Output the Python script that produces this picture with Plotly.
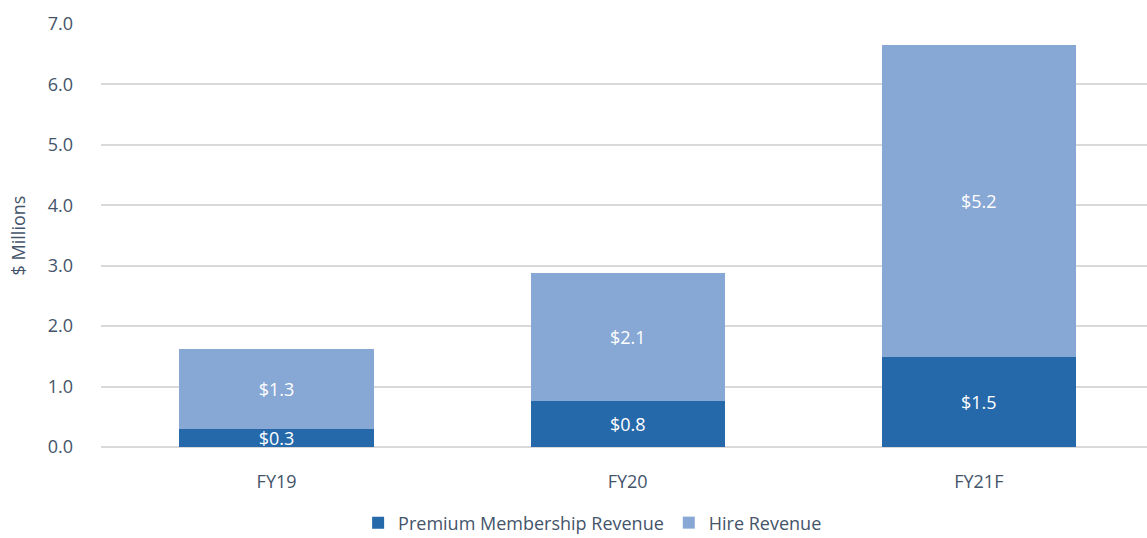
import plotly.graph_objects as go

# Revenue by fiscal year, $ millions
years = ["FY19", "FY20", "FY21F"]
premium_membership = [0.29, 0.76, 1.49]
hire_revenue = [1.34, 2.12, 5.16]

DARK = "#2569AA"
LIGHT = "#87A7D4"
TEXT = "#44546A"
FONT = "Open Sans"

fig = go.Figure()
for name, vals, col in [("Premium Membership Revenue", premium_membership, DARK),
                        ("Hire Revenue", hire_revenue, LIGHT)]:
    fig.add_trace(go.Bar(
        name=name, x=years, y=vals,
        marker=dict(color=col, line=dict(width=0)),
        texttemplate="$%{y:.1f}", textposition="inside",
        insidetextanchor="middle", constraintext="none",
        textfont=dict(color="white", size=18, family=FONT),
    ))

fig.update_layout(
    barmode="stack",
    bargap=0.447,
    width=1147, height=538,
    margin=dict(l=101, r=0, t=24, b=91, autoexpand=False),
    paper_bgcolor="white", plot_bgcolor="white",
    font=dict(family=FONT, color=TEXT, size=18),
    showlegend=True,
    legend=dict(
        orientation="h", x=0.47, xanchor="center",
        yref="container", y=0.028, yanchor="middle",
        font=dict(size=18, color=TEXT),
        traceorder="normal", itemwidth=30,
    ),
    xaxis=dict(
        range=[-0.5, 2.479],
        showgrid=False, showline=False, ticks="",
        ticklabelstandoff=22,
        tickfont=dict(size=18, color=TEXT),
    ),
    yaxis=dict(
        range=[0, 7], dtick=1, tickformat=".1f",
        showgrid=True, gridcolor="#D9D9D9", gridwidth=1.5,
        zeroline=True, zerolinecolor="#D9D9D9", zerolinewidth=1.5,
        showline=False, ticks="", ticklen=0,
        ticklabelstandoff=27,
        tickfont=dict(size=18, color=TEXT),
        title=dict(text="$ Millions", font=dict(size=18, color=TEXT), standoff=17),
    ),
)

fig.write_html("out.html")
